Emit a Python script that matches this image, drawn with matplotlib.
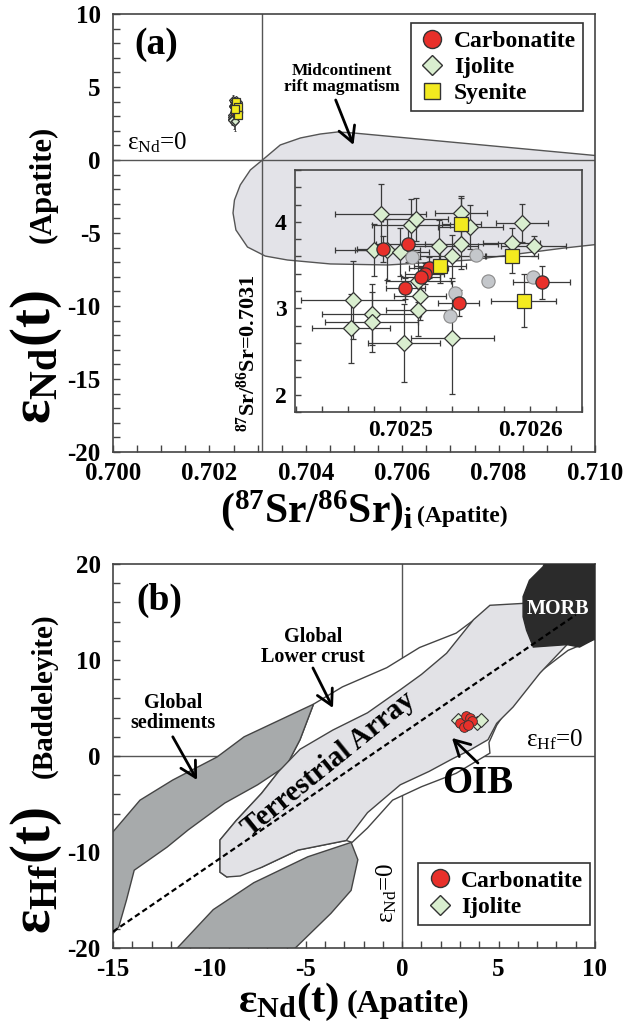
import numpy as np
import matplotlib
matplotlib.use("Agg")
import matplotlib.pyplot as plt
from matplotlib.lines import Line2D
from matplotlib.ticker import MultipleLocator, FormatStrFormatter

plt.rcParams['font.family'] = 'Liberation Serif'
plt.rcParams['font.weight'] = 'bold'
plt.rcParams['mathtext.default'] = 'regular'
plt.rcParams['axes.unicode_minus'] = False

# ---------------- panel (a) data: apatite Sr-Nd ----------------
ijo_x = [0.702485, 0.702508, 0.702512, 0.702547, 0.702554, 0.702594, 0.702586, 0.702603,
         0.702480, 0.702490, 0.702500, 0.702530, 0.702547, 0.702540, 0.702514, 0.702515,
         0.702514, 0.702464, 0.702478, 0.702478, 0.702462, 0.702503, 0.702540]
ijo_y = [4.09, 3.96, 4.03, 4.10, 3.94, 3.99, 3.75, 3.72, 3.67, 3.68, 3.65, 3.72, 3.74,
         3.60, 3.32, 3.14, 2.98, 3.10, 2.93, 2.84, 2.77, 2.60, 2.66]
ijo_xerr = [3.5e-5, 3.0e-5, 2.5e-5, 2.0e-5, 2.5e-5, 2.0e-5, 2.2e-5, 2.5e-5, 3.0e-5, 2.5e-5,
            2.2e-5, 3.0e-5, 2.8e-5, 2.5e-5, 2.5e-5, 2.0e-5, 2.5e-5, 4.0e-5, 3.8e-5, 3.6e-5,
            3.0e-5, 2.8e-5, 3.2e-5]
ijo_yerr = [0.35, 0.30, 0.25, 0.20, 0.25, 0.22, 0.18, 0.12, 0.30, 0.35, 0.28, 0.30, 0.28,
            0.25, 0.25, 0.28, 0.30, 0.45, 0.35, 0.35, 0.40, 0.45, 0.65]

carb_x = [0.702487, 0.702506, 0.702522, 0.702519, 0.702516, 0.702504, 0.702545, 0.702609]
carb_y = [3.69, 3.74, 3.47, 3.40, 3.36, 3.23, 3.06, 3.30]
carb_xerr = [2.0e-5, 2.5e-5, 1.5e-5, 1.5e-5, 1.5e-5, 1.5e-5, 1.6e-5, 2.2e-5]
carb_yerr = [0.15, 0.20, 0.12, 0.12, 0.12, 0.12, 0.15, 0.19]

syen_x = [0.702547, 0.702586, 0.702595, 0.702531]
syen_y = [3.98, 3.61, 3.09, 3.49]
syen_xerr = [1.5e-5, 2.0e-5, 2.5e-5, 2.0e-5]
syen_yerr = [0.30, 0.20, 0.31, 0.20]

grey_x = [0.702558, 0.702568, 0.702602, 0.702542, 0.702538, 0.702509]
grey_y = [3.62, 3.31, 3.36, 3.18, 2.91, 3.59]

# Midcontinent rift magmatism field
mc_x = [0.70310, 0.70347, 0.70389, 0.70430, 0.70466, 0.70499, 0.71013, 0.71013, 0.70936,
        0.70742, 0.70570, 0.70451, 0.70362, 0.70316, 0.70279, 0.70255, 0.70249, 0.70252,
        0.70264, 0.70285]
mc_y = [0.00, 1.03, 1.51, 1.78, 1.92, 1.85, 0.27, -5.75, -6.03, -6.85, -7.19, -7.12, -6.85,
        -6.58, -5.96, -4.79, -3.63, -2.74, -1.71, -0.68]

# ---------------- panel (b) data: Nd-Hf ----------------
carb_b_x = [3.0, 3.3, 3.5, 3.2, 3.6, 3.4]
carb_b_y = [3.4, 4.2, 4.0, 3.0, 3.6, 3.2]
ijo_b_x = [2.9, 3.9, 4.1]
ijo_b_y = [3.8, 3.4, 3.7]

tarr_x = [-15.0, 9.0]
tarr_y = [-18.3, 14.7]

ta_x = [-9.45, -8.6, -7.3, -6.4, -5.3, -3.6, -1.8, -0.1, 1.0, 2.3, 3.7, 4.55, 6.3, 8.6, 8.55,
        7.15, 5.75, 4.9, 4.45, 3.5, 2.6, 1.4, -0.1, -1.8, -2.9, -5.4, -7.3, -8.4, -9.1, -9.45]
ta_y = [-8.75, -6.7, -3.9, -1.6, 0.7, 2.7, 4.5, 6.9, 8.5, 10.7, 14.2, 15.7, 15.9, 15.0, 11.6,
        8.65, 5.1, 3.4, 1.7, 0.6, -0.3, -1.6, -3.0, -5.9, -8.8, -9.8, -11.6, -12.5, -12.6, -12.1]

lc_x = [-4.6, -3.1, -0.8, 0.9, 2.8, 4.0, 6.3, 9.9, 8.6, 7.3, 5.9, 4.9, 4.5, 4.55, 2.8, 1.0,
        -0.5, -1.8, -2.6, -2.9, -5.4, -7.3, -9.1, -9.45, -9.45, -8.6, -7.3, -6.4, -6.0, -5.3]
lc_y = [5.4, 7.2, 9.2, 11.3, 12.8, 14.6, 15.9, 12.1, 11.0, 9.0, 6.2, 3.2, 1.4, 0.3, -1.8, -3.2,
        -4.6, -7.5, -9.0, -8.8, -9.8, -11.6, -12.6, -12.1, -8.75, -6.7, -3.9, -1.6, -1.0, 1.7]

sed1_x = [-15.5, -15.0, -13.6, -11.9, -9.6, -8.2, -4.6, -5.3, -6.0, -7.5, -9.2, -11.1, -12.2,
          -13.9, -14.3, -14.7, -15.0, -15.5]
sed1_y = [-8.0, -7.9, -4.6, -2.5, -0.1, 2.0, 5.4, 1.7, -1.0, -3.0, -4.9, -7.7, -9.5, -11.9,
          -15.0, -17.8, -18.5, -18.5]

sed2_x = [-11.9, -9.8, -7.7, -4.9, -2.65, -2.3, -2.65, -3.7, -5.8]
sed2_y = [-20.5, -16.0, -13.2, -10.5, -9.0, -10.8, -14.0, -16.4, -20.5]

morb_x = [6.27, 6.6, 7.3, 7.5, 10.5, 10.5, 9.9, 9.2, 8.55, 6.8, 6.45, 6.27]
morb_y = [16.6, 18.3, 19.7, 20.5, 20.5, 12.3, 12.1, 11.35, 11.6, 11.35, 13.1, 14.5]

C_RED, C_GRN, C_YEL, C_GRY = '#e8302a', '#d9eecf', '#f3ea1f', '#c4c7cb'
EDGE = '#333333'
ARROW = dict(arrowstyle='->,head_length=0.55,head_width=0.3', color='black', lw=2.0,
             mutation_scale=20, shrinkA=0, shrinkB=0)

fig = plt.figure(figsize=(6.35, 10.23), dpi=100)
W, H = 635.0, 1023.0


def box(l, t, r, b):
    return [l / W, 1 - b / H, (r - l) / W, (b - t) / H]


def style(ax, size=18):
    ax.tick_params(which='both', direction='in', labelsize=size, width=1, color='#444',
                   top=False, right=False)
    ax.tick_params(which='major', length=5, pad=7)
    ax.tick_params(which='minor', length=5)
    for s in ax.spines.values():
        s.set_linewidth(1.2)
        s.set_color('#444')


def points(ax, x, y, xe, ye, marker, fc, ms, cap, lw):
    if xe is not None:
        ax.errorbar(x, y, xerr=xe, yerr=ye, fmt='none', ecolor='#3a3a3a', elinewidth=lw,
                    capsize=cap, capthick=lw, zorder=4)
    ax.plot(x, y, ls='none', marker=marker, ms=ms, mfc=fc, mec=EDGE, mew=0.9, zorder=5)


# ===================== panel (a) =====================
ax1 = fig.add_axes(box(113, 14, 595, 452))
ax1.set_xlim(0.700, 0.710)
ax1.set_ylim(-20, 10)
ax1.xaxis.set_major_locator(MultipleLocator(0.002))
ax1.xaxis.set_minor_locator(MultipleLocator(0.0005))
ax1.yaxis.set_major_locator(MultipleLocator(5))
ax1.yaxis.set_minor_locator(MultipleLocator(1))
ax1.xaxis.set_major_formatter(FormatStrFormatter('%.3f'))
style(ax1)
ax1.tick_params(axis='y', pad=9)

ax1.fill(mc_x, mc_y, facecolor='#e3e3e8', edgecolor='#555555', lw=1.0, zorder=1)
ax1.axhline(0, color='#555555', lw=1.0, zorder=2)
ax1.axvline(0.7031, color='#555555', lw=1.0, zorder=2)

points(ax1, ijo_x, ijo_y, ijo_xerr, ijo_yerr, 'D', C_GRN, 4.5, 1, 0.6)
points(ax1, carb_x, carb_y, carb_xerr, carb_yerr, 'o', C_RED, 4.5, 1, 0.6)
points(ax1, syen_x, syen_y, syen_xerr, syen_yerr, 's', C_YEL, 5.5, 1, 0.6)

ax1.text(0.7009, 7.9, '(a)', fontsize=27, ha='center', va='center')
ax1.text(0.7003, 0.35, 'ε$_{\\mathregular{Nd}}$=0', fontsize=18, fontweight='normal',
         ha='left', va='bottom')
ax1.text(0.70474, 5.55, 'Midcontinent\nrift magmatism', fontsize=12.5, ha='center',
         va='center', linespacing=1.0)
ax1.annotate('', xy=(0.70499, 1.03), xytext=(0.70462, 4.11), arrowprops=ARROW)
ax1.text(0.70280, -13.2, '$^{\\mathregular{87}}$Sr/$^{\\mathregular{86}}$Sr=0.7031',
         fontsize=16, rotation=90, ha='center', va='center')

leg_a = [Line2D([], [], ls='none', marker='o', ms=13, mfc=C_RED, mec=EDGE, label='Carbonatite'),
         Line2D([], [], ls='none', marker='D', ms=10, mfc=C_GRN, mec=EDGE, label='Ijolite'),
         Line2D([], [], ls='none', marker='s', ms=12, mfc=C_YEL, mec=EDGE, label='Syenite')]
lg = ax1.legend(handles=leg_a, loc='upper right', bbox_to_anchor=(0.975, 0.979),
                borderaxespad=0, fontsize=17, fancybox=False, edgecolor='#333',
                handletextpad=0.3, labelspacing=0.2, borderpad=0.3, handlelength=1.2,
                framealpha=1)
lg.get_frame().set_linewidth(1.2)

# inset
axi = fig.add_axes(box(295, 170, 582, 412))
axi.patch.set_alpha(0)
axi.set_xlim(0.702419, 0.70264)
axi.set_ylim(1.80, 4.60)
axi.xaxis.set_major_locator(MultipleLocator(0.0001))
axi.xaxis.set_minor_locator(MultipleLocator(0.00002))
axi.yaxis.set_major_locator(MultipleLocator(1))
axi.yaxis.set_minor_locator(MultipleLocator(0.2))
axi.xaxis.set_major_formatter(FormatStrFormatter('%.4f'))
style(axi, 17)
axi.tick_params(which='both', length=4)
axi.tick_params(axis='x', pad=6)
axi.tick_params(axis='y', pad=6)

points(axi, ijo_x, ijo_y, ijo_xerr, ijo_yerr, 'D', C_GRN, 8.5, 2, 0.9)
axi.plot(grey_x, grey_y, ls='none', marker='o', ms=9.5, mfc=C_GRY, mec='#8a8a8a', mew=0.8,
         zorder=5)
points(axi, carb_x, carb_y, carb_xerr, carb_yerr, 'o', C_RED, 9.5, 2, 0.9)
points(axi, syen_x, syen_y, syen_xerr, syen_yerr, 's', C_YEL, 10.5, 2, 0.9)

# axis labels (a)
fig.text(50 / W, 1 - 424 / H, 'ε$_{\\mathregular{Nd}}$(t)', fontsize=41, rotation=90,
         rotation_mode='anchor', ha='left', va='baseline')
fig.text(51 / W, 1 - 243 / H, '(Apatite)', fontsize=22, rotation=90,
         rotation_mode='anchor', ha='left', va='baseline')
fig.text(220 / W, 1 - 522 / H,
         '($^{\\mathregular{87}}$Sr/$^{\\mathregular{86}}$Sr)$_{\\mathregular{i}}$',
         fontsize=30, ha='left', va='baseline')
fig.text(417 / W, 1 - 522 / H, '(Apatite)', fontsize=17, ha='left', va='baseline')

# ===================== panel (b) =====================
ax2 = fig.add_axes(box(113, 564, 595, 948))
ax2.set_xlim(-15, 10)
ax2.set_ylim(-20, 20)
ax2.xaxis.set_major_locator(MultipleLocator(5))
ax2.xaxis.set_minor_locator(MultipleLocator(1))
ax2.yaxis.set_major_locator(MultipleLocator(10))
ax2.yaxis.set_minor_locator(MultipleLocator(2))
style(ax2)
ax2.tick_params(axis='y', pad=9)

ax2.axhline(0, color='#555555', lw=1.0, zorder=1)
ax2.axvline(0, color='#555555', lw=1.0, zorder=1)
ax2.fill(lc_x, lc_y, facecolor='white', edgecolor='#444444', lw=1.0, zorder=2)
ax2.fill(sed1_x, sed1_y, facecolor='#a7aaab', edgecolor='#444444', lw=1.0, zorder=2)
ax2.fill(sed2_x, sed2_y, facecolor='#a7aaab', edgecolor='#444444', lw=1.0, zorder=2)
ax2.fill(ta_x, ta_y, facecolor='#e2e2e6', edgecolor='#444444', lw=1.0, zorder=3)
ax2.fill(morb_x, morb_y, facecolor='#2b2b2b', edgecolor='#2b2b2b', lw=1.0, zorder=3)
ax2.plot(tarr_x, tarr_y, color='black', lw=1.6, ls=(0, (2.5, 1.5)), zorder=4)

ax2.plot(ijo_b_x, ijo_b_y, ls='none', marker='D', ms=7, mfc=C_GRN, mec=EDGE, mew=0.8, zorder=5)
ax2.plot(carb_b_x, carb_b_y, ls='none', marker='o', ms=7, mfc=C_RED, mec=EDGE, mew=0.6,
         zorder=6)

ax2.text(-12.6, 16.2, '(b)', fontsize=27, ha='center', va='center')
ax2.text(8.1, 15.3, 'MORB', fontsize=14.5, color='white', ha='center', va='center', zorder=7)
ax2.text(-3.8, -0.9, 'Terrestrial Array', fontsize=21, rotation=39, ha='center',
         va='center', zorder=7)
ax2.text(7.9, 0.4, 'ε$_{\\mathregular{Hf}}$=0', fontsize=18, fontweight='normal',
         ha='center', va='bottom', zorder=7)
ax2.text(-0.8, -14.2, 'ε$_{\\mathregular{Nd}}$=0', fontsize=18, fontweight='normal',
         rotation=90, ha='center', va='center', zorder=7)
ax2.text(-11.9, 4.5, 'Global\nsediments', fontsize=14.5, ha='center', va='center',
         linespacing=1.0)
ax2.annotate('', xy=(-10.64, -2.5), xytext=(-11.9, 2.0), arrowprops=ARROW)
ax2.text(-4.63, 11.35, 'Global\nLower crust', fontsize=14.5, ha='center', va='center',
         linespacing=1.0)
ax2.annotate('', xy=(-3.59, 5.0), xytext=(-4.63, 9.17), arrowprops=ARROW)
ax2.text(3.93, -2.9, 'OIB', fontsize=28, ha='center', va='center', zorder=7)
ax2.annotate('', xy=(2.58, 1.88), xytext=(3.93, -0.73), arrowprops=ARROW, zorder=7)

leg_b = [Line2D([], [], ls='none', marker='o', ms=13, mfc=C_RED, mec=EDGE, label='Carbonatite'),
         Line2D([], [], ls='none', marker='D', ms=10, mfc=C_GRN, mec=EDGE, label='Ijolite')]
lg2 = ax2.legend(handles=leg_b, loc='lower right', bbox_to_anchor=(0.99, 0.06),
                 borderaxespad=0, fontsize=17, fancybox=False, edgecolor='#333',
                 handletextpad=0.3, labelspacing=0.2, borderpad=0.3, handlelength=1.2,
                 framealpha=1)
lg2.get_frame().set_linewidth(1.2)
lg2.set_zorder(10)

# axis labels (b)
fig.text(50 / W, 1 - 934 / H, 'ε$_{\\mathregular{Hf}}$(t)', fontsize=41, rotation=90,
         rotation_mode='anchor', ha='left', va='baseline')
fig.text(51 / W, 1 - 778 / H, '(Baddeleyite)', fontsize=21, rotation=90,
         rotation_mode='anchor', ha='left', va='baseline')
fig.text(238 / W, 1 - 1012 / H, 'ε$_{\\mathregular{Nd}}$(t)', fontsize=31,
         ha='left', va='baseline')
fig.text(347 / W, 1 - 1012 / H, '(Apatite)', fontsize=23, ha='left', va='baseline')

fig.savefig('out.png', dpi=100)
